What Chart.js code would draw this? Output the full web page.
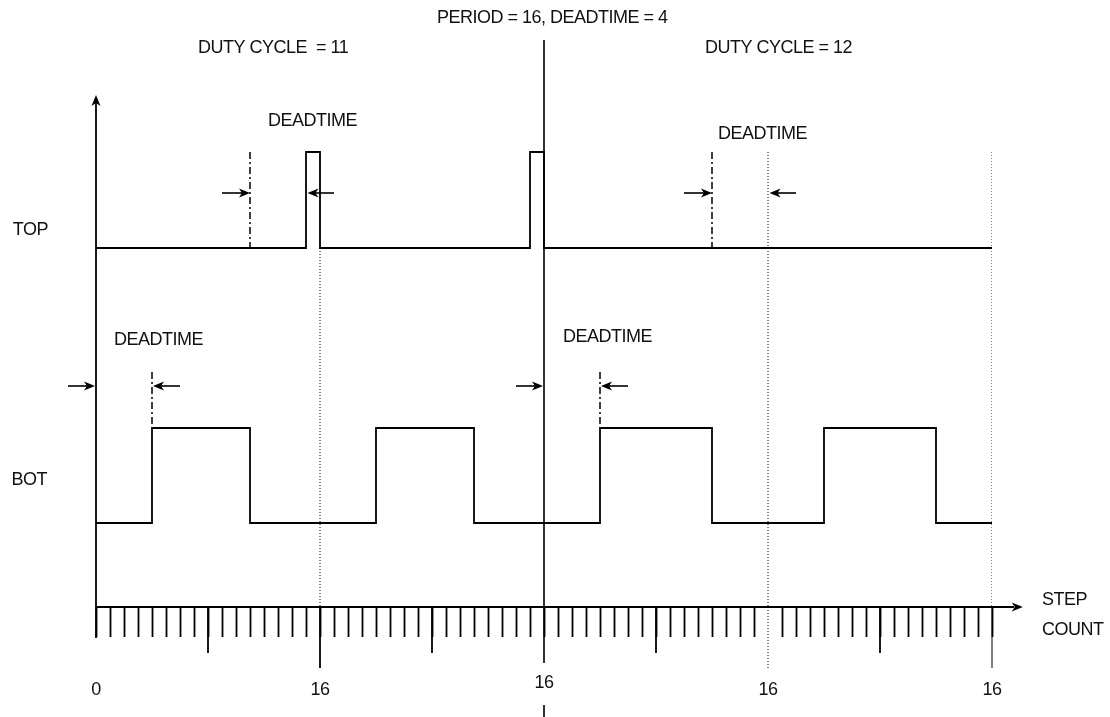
<!DOCTYPE html>
<html>
<head>
<meta charset="utf-8">
<script src="https://cdn.jsdelivr.net/npm/chart.js@4/dist/chart.umd.min.js"></script>
<style>
  html, body { margin: 0; padding: 0; background: #fff; }
</style>
</head>
<body>
<canvas id="timing" width="1110" height="717"></canvas>
<script>
// step count axis
const stepMin = 0;
const stepMax = 64;
const labelSteps = [0, 16, 32, 48, 64];
const labelTexts = ["0", "16", "16", "16", "16"];

// TOP switch : step where the level changes, new level (0 = low, 1 = high)
const topEdges = [0, 15, 16, 31, 32, 64];
const topStates = [0, 1, 0, 1, 0, 0];

// BOT switch
const botEdges = [0, 4, 11, 20, 27, 36, 44, 52, 60, 64];
const botStates = [0, 1, 0, 1, 0, 1, 0, 1, 0, 0];

// deadtime windows [start, end] in steps
const topDeadtimes = [[11, 15], [44, 48]];
const botDeadtimes = [[0, 4], [32, 36]];

// period boundary and compare points
const periodStep = 32;
const compareSteps = [16, 48, 64];

// texts
const titleText = "PERIOD = 16, DEADTIME = 4";
const dutyTexts = ["DUTY CYCLE  = 11", "DUTY CYCLE = 12"];
const signalNames = ["TOP", "BOT"];
const deadtimeText = "DEADTIME";
const axisTitle = ["STEP", "COUNT"];

// vertical levels (y scale units, 1 unit = 100 px)
const LEVEL = { topLow: 3.59, topHigh: 4.55, botLow: 0.84, botHigh: 1.79, topArrow: 4.14, botArrow: 2.21, botMark: 2.35 };
const FONT = '18px "Liberation Sans", Arial, sans-serif';

function signal(edges, states, low, high) {
  return edges.map((s, i) => ({ x: s, y: states[i] ? high : low }));
}

function vline(step, y0, y1, dash, width) {
  return {
    data: [{ x: step, y: y0 }, { x: step, y: y1 }],
    borderColor: "#000",
    borderWidth: width,
    borderDash: dash,
    pointRadius: 0,
    stepped: false,
  };
}

const datasets = [];
// dotted compare lines
compareSteps.forEach((s) => datasets.push(vline(s, LEVEL.topHigh, 0, [1, 2], 1)));
// dash-dot deadtime start marks
topDeadtimes.forEach((w) => datasets.push(vline(w[0], LEVEL.topHigh, LEVEL.topLow, [7, 3, 2, 3], 1.5)));
botDeadtimes.forEach((w) => datasets.push(vline(w[1], LEVEL.botMark, LEVEL.botHigh, [7, 3, 2, 3], 1.5)));
// signals
datasets.push({
  label: "TOP",
  data: signal(topEdges, topStates, LEVEL.topLow, LEVEL.topHigh),
  stepped: true,
  borderColor: "#000",
  borderWidth: 1.8,
  pointRadius: 0,
});
datasets.push({
  label: "BOT",
  data: signal(botEdges, botStates, LEVEL.botLow, LEVEL.botHigh),
  stepped: true,
  borderColor: "#000",
  borderWidth: 1.8,
  pointRadius: 0,
});

function arrowHead(ctx, x, y, dir, vertical) {
  ctx.beginPath();
  if (vertical) {
    ctx.moveTo(x, y);
    ctx.lineTo(x - 4.5, y + 11);
    ctx.lineTo(x, y + 8);
    ctx.lineTo(x + 4.5, y + 11);
  } else {
    ctx.moveTo(x, y);
    ctx.lineTo(x - dir * 11, y - 4.5);
    ctx.lineTo(x - dir * 8, y);
    ctx.lineTo(x - dir * 11, y + 4.5);
  }
  ctx.closePath();
  ctx.fill();
}

function arrow(ctx, x0, x1, y) {
  const dir = x1 > x0 ? 1 : -1;
  ctx.beginPath();
  ctx.moveTo(x0, y);
  ctx.lineTo(x1 - dir * 6, y);
  ctx.stroke();
  arrowHead(ctx, x1, y, dir, false);
}

const decor = {
  id: "decor",
  afterDatasetsDraw(chart) {
    const { ctx } = chart;
    const xs = chart.scales.x;
    const ys = chart.scales.y;
    const px = (v) => xs.getPixelForValue(v);
    const py = (v) => ys.getPixelForValue(v);
    const axisY = py(0);
    ctx.save();
    ctx.strokeStyle = "#000";
    ctx.fillStyle = "#000";
    ctx.lineWidth = 1.8;

    // step axis with arrow
    ctx.beginPath();
    ctx.moveTo(px(stepMin), axisY);
    ctx.lineTo(px(stepMax + 2) - 6, axisY);
    ctx.stroke();
    arrowHead(ctx, px(stepMax + 2.2), axisY, 1, false);

    // vertical axis with arrow
    ctx.beginPath();
    ctx.moveTo(px(stepMin), axisY + 31);
    ctx.lineTo(px(stepMin), py(ys.max) + 6);
    ctx.stroke();
    arrowHead(ctx, px(stepMin), py(ys.max) - 2, 0, true);

    // longer ticks every 8 and 16 steps
    xs.ticks.forEach((t) => {
      const v = t.value;
      if (v === stepMin || v === periodStep) return;
      const x = px(v);
      if (v % 16 === 0) {
        ctx.save();
        if (v === 48) { ctx.setLineDash([1, 2]); ctx.lineWidth = 1; }
        else if (v === 64) { ctx.lineWidth = 1; }
        ctx.beginPath();
        ctx.moveTo(x, axisY);
        ctx.lineTo(x, axisY + 61);
        ctx.stroke();
        ctx.restore();
      } else if (v % 8 === 0) {
        ctx.beginPath();
        ctx.moveTo(x, axisY);
        ctx.lineTo(x, axisY + 46);
        ctx.stroke();
      }
    });

    // period boundary line
    const xp = px(periodStep);
    ctx.lineWidth = 1.6;
    ctx.beginPath();
    ctx.moveTo(xp, 40);
    ctx.lineTo(xp, axisY + 56);
    ctx.moveTo(xp, axisY + 98);
    ctx.lineTo(xp, chart.height);
    ctx.stroke();

    // deadtime arrows
    ctx.lineWidth = 1.6;
    topDeadtimes.forEach((w) => {
      arrow(ctx, px(w[0] - 2), px(w[0]), py(LEVEL.topArrow));
      arrow(ctx, px(w[1] + 2), px(w[1]) + 1.5, py(LEVEL.topArrow));
    });
    botDeadtimes.forEach((w) => {
      arrow(ctx, px(w[0] - 2), px(w[0]) - 1, py(LEVEL.botArrow));
      arrow(ctx, px(w[1] + 2), px(w[1]) + 1, py(LEVEL.botArrow));
    });

    // texts
    ctx.font = FONT;
    ctx.letterSpacing = "-0.5px";
    ctx.textBaseline = "middle";
    ctx.fillStyle = "#111";
    ctx.textAlign = "left";
    ctx.fillText(titleText, 437, 18);
    ctx.fillText(dutyTexts[0], 198, 48);
    ctx.fillText(dutyTexts[1], 705, 48);
    ctx.fillText(deadtimeText, 268, 121);
    ctx.fillText(deadtimeText, 718, 134);
    ctx.fillText(deadtimeText, 114, 340);
    ctx.fillText(deadtimeText, 563, 337);
    ctx.textAlign = "right";
    ctx.fillText(signalNames[0], 48, 230);
    ctx.fillText(signalNames[1], 47, 480);
    ctx.textAlign = "left";
    ctx.fillText(axisTitle[0], 1042, 600);
    ctx.fillText(axisTitle[1], 1042, 630);
    ctx.textAlign = "center";
    labelSteps.forEach((s, i) => {
      ctx.fillText(labelTexts[i], px(s), s === periodStep ? 683 : 690);
    });
    ctx.restore();
  },
};

new Chart(document.getElementById("timing"), {
  type: "line",
  data: { datasets: datasets },
  options: {
    responsive: false,
    animation: false,
    layout: { padding: { top: 97, left: 96, right: 118, bottom: 80 } },
    plugins: { legend: { display: false }, tooltip: { enabled: false } },
    scales: {
      x: {
        type: "linear",
        min: stepMin,
        max: stepMax,
        border: { display: false },
        grid: {
          drawOnChartArea: false,
          drawTicks: true,
          tickLength: 30,
          tickWidth: 1.8,
          tickColor: (c) => (c.tick && c.tick.value === 48 ? "rgba(0,0,0,0)" : "#000"),
        },
        ticks: { display: false, stepSize: 1, maxTicksLimit: 200 },
      },
      y: { display: false, min: 0, max: 5.1 },
    },
  },
  plugins: [decor],
});
</script>
</body>
</html>
